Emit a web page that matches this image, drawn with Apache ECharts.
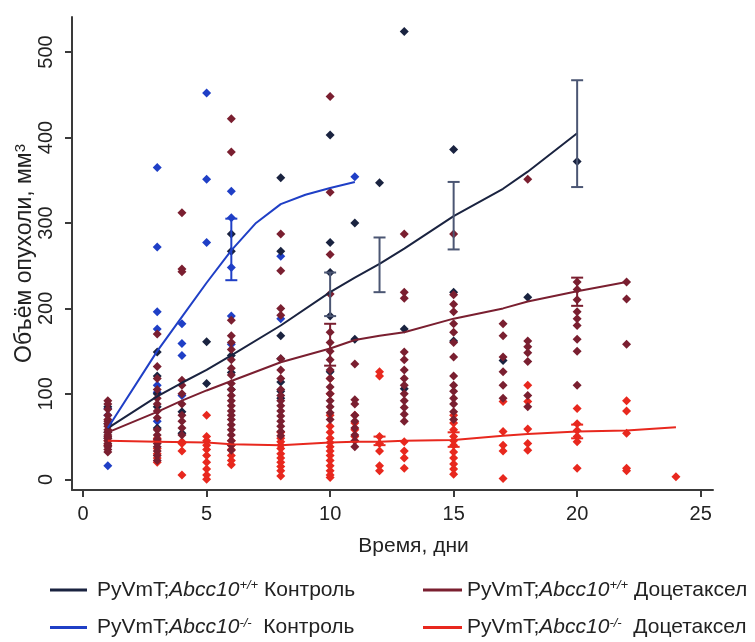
<!DOCTYPE html>
<html><head><meta charset="utf-8">
<script src="https://cdn.jsdelivr.net/npm/echarts@6/dist/echarts.min.js"></script>
<style>html,body{margin:0;padding:0;background:#fff}#c{width:755px;height:642px}</style>
</head><body><div id="c"></div>
<script>
// ---- data ----
const xTicks = [0, 5, 10, 15, 20, 25];
const yTicks = [0, 100, 200, 300, 400, 500];

const ctrlWtDays = [1, 3, 4, 5, 6, 8, 10, 11, 12, 13, 15, 17, 18, 20];
const ctrlWtVals = [[85, 65, 55, 48], [149, 121, 100, 85, 60], [79, 54], [161, 112], [287, 267, 145, 125, 105],
  [353, 267, 168, 141, 114, 103, 95], [403, 277, 242, 191, 126], [300, 164], [347], [524, 176, 106],
  [386, 219, 162], [139], [213], [372]];

const ctrlKoDays = [1, 3, 4, 5, 6, 8, 11];
const ctrlKoVals = [[83, 75, 16], [365, 272, 196, 176, 110, 102, 68], [182, 159, 145, 98], [452, 351, 277],
  [337, 306, 248, 191, 158], [261, 188], [354]];

const docWtDays = [1, 3, 4, 6, 8, 10, 11, 13, 15, 17, 18, 20, 22];
const docWtVals = [
  [92, 88, 82, 75, 70, 68, 65, 62, 58, 55, 52, 50, 48, 45, 42, 40, 38, 35, 32],
  [170, 132, 118, 105, 95, 88, 80, 72, 58, 52, 47, 42, 38, 33, 28, 22],
  [312, 246, 243, 116, 110, 100, 88, 75, 68, 60, 52],
  [422, 383, 186, 168, 160, 152, 140, 130, 122, 112, 105, 98, 92, 86, 80, 75, 70, 64, 58, 52, 45, 40, 34],
  [287, 244, 200, 192, 141, 128, 118, 105, 98, 92, 86, 80, 74, 68, 62, 56, 51],
  [448, 336, 263, 217, 172, 160, 150, 140, 128, 118, 108, 100, 92, 85, 78, 70],
  [135, 93, 88, 75, 68, 60, 52, 45, 38],
  [287, 219, 212, 149, 140, 128, 118, 110, 100, 92, 84, 76, 68],
  [287, 216, 205, 196, 182, 172, 160, 143, 121, 110, 103, 95, 88, 79, 70],
  [182, 168, 143, 126, 110, 95],
  [351, 162, 155, 148, 138, 98, 85],
  [231, 222, 210, 196, 188, 180, 164, 150, 110],
  [231, 211, 158]];

const docKoDays = [1, 3, 4, 5, 6, 8, 10, 11, 12, 13, 15, 17, 18, 20, 22, 24];
const docKoVals = [[45, 40], [48, 45, 36, 30, 25, 20], [44, 42, 33, 5], [75, 50, 45, 40, 35, 28, 20, 12, 5, 0],
  [45, 40, 35, 28, 22, 17], [55, 48, 44, 40, 36, 30, 25, 20, 15, 10, 4],
  [118, 100, 75, 62, 55, 48, 43, 38, 33, 28, 22, 16, 10, 5, 2], [75, 66, 58, 50],
  [126, 121, 50, 42, 33, 16, 10], [44, 33, 25, 13], [75, 66, 58, 50, 45, 40, 32, 25, 18, 12, 6],
  [91, 56, 40, 33, 1], [110, 91, 59, 42, 34], [83, 65, 57, 50, 44, 13], [92, 80, 54, 13, 10], [3]];

const ctrlWtLine = [[1, 60], [3, 97], [4, 113], [5, 128], [6, 145], [8, 180], [10, 219], [11, 236], [12, 252],
  [13, 270], [15, 308], [17, 340], [18, 360], [20, 405]];
const ctrlKoLine = [[1, 60], [3, 150], [4, 190], [5, 230], [6, 268], [7, 300], [8, 322], [9, 333], [10, 341], [11, 348]];
const docWtLine = [[1, 55], [3, 79], [4, 92], [5, 104], [6, 115], [8, 137], [10, 153], [11, 163], [12, 168],
  [13, 172], [15, 188], [17, 200], [18, 208], [20, 220], [22, 231]];
const docKoLine = [[1, 45], [3, 44], [5, 43], [6, 41], [8, 40], [10, 43], [11, 44], [12, 44], [13, 45],
  [15, 46], [17, 51], [18, 53], [20, 56], [22, 57], [24, 61]];

const ctrlWtErr = [[10, 191, 242], [12, 219, 283], [15, 269, 348], [20, 342, 467]];
const ctrlKoErr = [[6, 233, 305]];
const docWtErr = [[10, 133, 182], [20, 203, 236]];
const docKoErr = [[12, 40, 50], [15, 38, 55], [20, 48, 64]];

// ---- helpers ----
function pts(days, vals) {
  const out = [];
  days.forEach((d, i) => vals[i].forEach(v => out.push([d, v])));
  return out;
}
const C = { ctrlWt: '#1a2340', ctrlKo: '#1f3fc6', docWt: '#7a1f30', docKo: '#e8281e' };
const FONT = 'Liberation Sans, Arial, sans-serif';

function scatter(name, data, color) {
  return { name: name + 'Pts', type: 'scatter', data, symbol: 'diamond', symbolSize: 9,
    itemStyle: { color, opacity: 1 }, z: 2, silent: true };
}
function line(name, data, color) {
  return { name, type: 'line', data, symbol: 'none', showSymbol: false,
    lineStyle: { color, width: 2 }, itemStyle: { color }, z: 4, silent: true };
}
function errbar(name, data, color) {
  return {
    name: name + 'Err', type: 'custom', z: 5, silent: true, data,
    renderItem(params, api) {
      const x = api.value(0);
      const lo = api.coord([x, api.value(1)]);
      const hi = api.coord([x, api.value(2)]);
      const w = 6;
      const st = { stroke: color, lineWidth: 2, fill: null };
      return { type: 'group', children: [
        { type: 'line', shape: { x1: lo[0], y1: lo[1], x2: hi[0], y2: hi[1] }, style: st },
        { type: 'line', shape: { x1: lo[0] - w, y1: lo[1], x2: lo[0] + w, y2: lo[1] }, style: st },
        { type: 'line', shape: { x1: hi[0] - w, y1: hi[1], x2: hi[0] + w, y2: hi[1] }, style: st }
      ] };
    }
  };
}

const labelMap = {
  ctrlWt: ['+/+', ' Контроль'],
  ctrlKo: ['-/-', '  Контроль'],
  docWt: ['+/+', ' Доцетаксел'],
  docKo: ['-/-', '  Доцетаксел']
};
function legendFmt(first) {
  return function (name) {
    const m = labelMap[name];
    return '{' + first + '|PyVmT;}{i|Abcc10}{s|' + m[0] + '}{n|' + m[1] + '}';
  };
}
const rich = {
  n: { fontSize: 21, fontFamily: FONT, color: '#222', lineHeight: 22 },
  p: { fontSize: 21, fontFamily: FONT, color: '#222', lineHeight: 22, padding: [0, 0, 0, 5] },
  i: { fontSize: 21, fontFamily: FONT, color: '#222', lineHeight: 22, fontStyle: 'italic' },
  s: { fontSize: 13, fontFamily: FONT, color: '#222', lineHeight: 13, verticalAlign: 'top', fontStyle: 'italic' }
};

const axisCommon = {
  axisLine: { show: true, onZero: false, lineStyle: { color: '#3a3a3a', width: 2 } },
  axisTick: { show: true, length: 7, lineStyle: { color: '#3a3a3a', width: 2 } },
  splitLine: { show: false }
};

const chart = echarts.init(document.getElementById('c'), null, { renderer: 'canvas' });
chart.setOption({
  animation: false,
  backgroundColor: '#fff',
  grid: { left: 72, right: 42, top: 17, bottom: 152, containLabel: false, outerBoundsMode: 'none' },
  xAxis: Object.assign({}, axisCommon, {
    type: 'value', min: -0.45, max: 25.5,
    axisTick: Object.assign({}, axisCommon.axisTick, { customValues: xTicks }),
    axisLabel: { customValues: xTicks, fontSize: 20, fontFamily: FONT, color: '#222', margin: 14 },
    name: 'Время, дни', nameLocation: 'middle', nameGap: 46, nameMoveOverlap: false,
    nameTextStyle: { fontSize: 21, fontFamily: FONT, color: '#222', padding: [0, 0, 0, 42] }
  }),
  yAxis: Object.assign({}, axisCommon, {
    type: 'value', min: -12.5, max: 541,
    axisTick: Object.assign({}, axisCommon.axisTick, { customValues: yTicks }),
    axisLabel: { customValues: yTicks, fontSize: 20, fontFamily: FONT, color: '#222', margin: 16, rotate: 90 },
    name: '{a|Объём опухоли, мм}{s|3}', nameLocation: 'middle', nameGap: 35, nameMoveOverlap: false,
    nameTextStyle: { rich: {
      a: { fontSize: 23, fontFamily: FONT, color: '#222', lineHeight: 24 },
      s: { fontSize: 15, fontFamily: FONT, color: '#222', lineHeight: 15, verticalAlign: 'top' }
    } }
  }),
  legend: [
    { left: 50, top: 579, padding: 0, orient: 'vertical', itemGap: 16, itemWidth: 37, itemHeight: 3, icon: 'rect',
      data: ['ctrlWt', 'ctrlKo'], formatter: legendFmt('p'), textStyle: { rich }, selectedMode: false },
    { left: 423, top: 579, padding: 0, orient: 'vertical', itemGap: 16, itemWidth: 39, itemHeight: 3, icon: 'rect',
      data: ['docWt', 'docKo'], formatter: legendFmt('n'), textStyle: { rich }, selectedMode: false }
  ],
  series: [
    scatter('docKo', pts(docKoDays, docKoVals), C.docKo),
    scatter('ctrlKo', pts(ctrlKoDays, ctrlKoVals), C.ctrlKo),
    scatter('ctrlWt', pts(ctrlWtDays, ctrlWtVals), C.ctrlWt),
    scatter('docWt', pts(docWtDays, docWtVals), C.docWt),
    line('docKo', docKoLine, C.docKo),
    line('docWt', docWtLine, C.docWt),
    line('ctrlWt', ctrlWtLine, C.ctrlWt),
    line('ctrlKo', ctrlKoLine, C.ctrlKo),
    errbar('ctrlWt', ctrlWtErr, '#4b5673'),
    errbar('ctrlKo', ctrlKoErr, C.ctrlKo),
    errbar('docWt', docWtErr, C.docWt),
    errbar('docKo', docKoErr, C.docKo)
  ]
});
</script>
</body></html>
